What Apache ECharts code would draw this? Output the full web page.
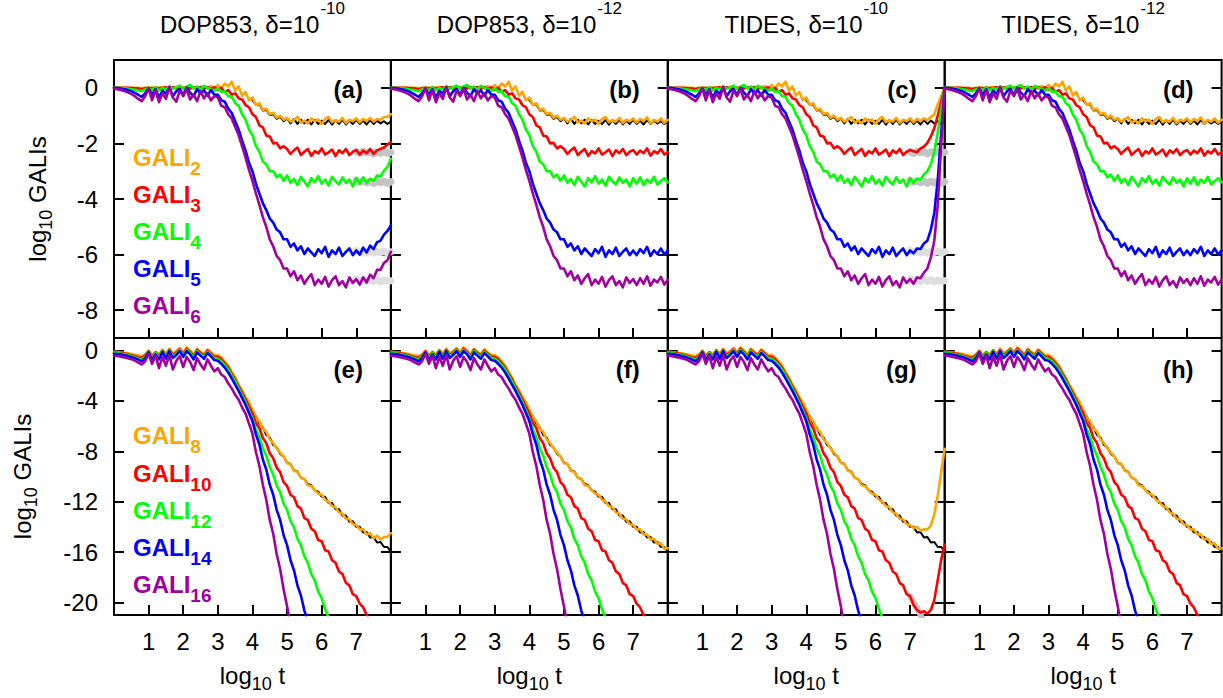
<!DOCTYPE html>
<html><head><meta charset="utf-8">
<script src="https://cdn.jsdelivr.net/npm/echarts@6/dist/echarts.min.js"></script>
<style>html,body{margin:0;padding:0;background:#fff}#c{width:1223px;height:698px}</style>
</head><body><div id="c"></div>
<script>
// ---------------- DATA ----------------
const logT = [0,0.1,0.2,0.3,0.4,0.5,0.6,0.7,0.8,0.9,
1,1.1,1.2,1.3,1.4,1.5,1.6,1.7,1.8,1.9,
2,2.1,2.2,2.3,2.4,2.5,2.6,2.7,2.8,2.9,
3,3.1,3.2,3.3,3.4,3.5,3.6,3.7,3.8,3.9,
4,4.1,4.2,4.3,4.4,4.5,4.6,4.7,4.8,4.9,
5,5.1,5.2,5.3,5.4,5.5,5.6,5.7,5.8,5.9,
6,6.1,6.2,6.3,6.4,6.5,6.6,6.7,6.8,6.9,
7,7.1,7.2,7.3,7.4,7.5,7.6,7.7,7.8,7.9,8];

const xTickVals = [1,2,3,4,5,6,7];
const yTickTop = [0,-2,-4,-6,-8];
const yTickBot = [0,-4,-8,-12,-16,-20];

const titleMain = ['DOP853, δ=10','DOP853, δ=10','TIDES, δ=10','TIDES, δ=10'];
const titleSup = ['-10','-12','-10','-12'];
const panelLabels = ['(a)','(b)','(c)','(d)','(e)','(f)','(g)','(h)'];
const topIdx = ['2','3','4','5','6'];
const botIdx = ['8','10','12','14','16'];

// top row (GALI2..GALI6), log10 t = 0 .. 7.0
const g2Top = [0,0,0,0,0,0,0,0,-0.02,0,
0,0,0,0,0.02,0,0.02,0,0.03,0,
0.03,0,0.04,-0.02,0.04,-0.02,0.05,-0.03,0.06,-0.03,
0.1,-0.02,0.15,0.05,0.22,-0.1,0.05,-0.28,-0.15,-0.45,
-0.35,-0.62,-0.55,-0.8,-0.75,-0.95,-0.9,-1.08,-1.0,-1.15,
-1.08,-1.22,-1.15,-1.05,-1.25,-1.18,-1.28,-1.1,-1.2,-1.14,
-1.3,-1.12,-1.05,-1.24,-1.16,-1.22,-1.08,-1.27,-1.15,-1.2,
-1.1];
const g3Top = [0,0,0,0,0,-0.01,-0.02,-0.03,-0.05,-0.02,
0,-0.02,0,-0.02,0,0.02,-0.02,0.02,-0.02,0.03,
-0.02,0.03,-0.03,0.02,-0.03,0.03,-0.04,0.03,-0.05,0.02,
-0.08,0,-0.15,-0.08,-0.25,-0.2,-0.38,-0.42,-0.62,-0.7,
-0.95,-1.05,-1.35,-1.42,-1.72,-1.75,-2.0,-1.98,-2.18,-2.1,
-2.2,-2.38,-2.25,-2.15,-2.42,-2.3,-2.2,-2.45,-2.28,-2.36,
-2.18,-2.4,-2.32,-2.22,-2.46,-2.25,-2.35,-2.2,-2.42,-2.3,
-2.24];
const g4Top = [0,0,-0.01,-0.02,-0.03,-0.05,-0.07,-0.1,-0.12,-0.06,
0,-0.08,0.02,-0.1,0,-0.06,0.06,-0.04,0.02,0.08,
-0.05,0.05,0.1,-0.03,0.04,-0.06,0.07,0,-0.05,-0.1,
-0.02,-0.15,-0.12,-0.3,-0.32,-0.55,-0.65,-0.95,-1.15,-1.5,
-1.7,-2.1,-2.3,-2.65,-2.75,-3.0,-3.0,-3.22,-3.12,-3.35,
-3.15,-3.42,-3.28,-3.5,-3.2,-3.38,-3.55,-3.25,-3.4,-3.18,
-3.45,-3.3,-3.52,-3.2,-3.36,-3.48,-3.22,-3.42,-3.3,-3.55,
-3.25];
const g5Top = [0,-0.01,-0.03,-0.05,-0.08,-0.12,-0.18,-0.25,-0.33,-0.2,
-0.02,-0.25,-0.05,-0.35,-0.1,-0.22,0.02,-0.3,-0.12,-0.05,
-0.25,0,-0.18,-0.3,-0.05,-0.2,-0.1,-0.28,-0.08,-0.25,
-0.25,-0.45,-0.5,-0.75,-0.9,-1.2,-1.5,-1.9,-2.25,-2.7,
-3.0,-3.45,-3.8,-4.15,-4.4,-4.7,-4.85,-5.1,-5.2,-5.45,
-5.45,-5.72,-5.6,-5.85,-5.7,-5.98,-5.78,-5.92,-6.05,-5.8,
-5.95,-5.72,-6.08,-5.85,-5.98,-5.75,-6.05,-5.9,-5.78,-6.02,
-5.85];
const g6Top = [-0.03,-0.05,-0.08,-0.12,-0.16,-0.22,-0.3,-0.4,-0.48,-0.3,
-0.02,-0.45,-0.08,-0.52,-0.2,-0.4,0.02,-0.35,-0.5,-0.1,
-0.3,-0.05,-0.42,-0.25,-0.48,-0.12,-0.38,-0.2,-0.45,-0.3,
-0.35,-0.65,-0.7,-0.95,-1.1,-1.4,-1.7,-2.1,-2.5,-2.95,
-3.35,-3.8,-4.2,-4.65,-5.0,-5.45,-5.7,-6.05,-6.2,-6.5,
-6.5,-6.78,-6.6,-6.92,-6.75,-7.05,-6.85,-6.7,-7.1,-6.9,
-7.05,-6.8,-7.15,-6.92,-6.78,-7.1,-6.95,-7.18,-6.82,-7.02,
-6.88];
// top row tails, log10 t = 7.1 .. 8.0  (A: panel a, B: panels b and d, C: panel c)
const g2TailA = [-1.24,-1.12,-1.2,-1.08,-1.22,-1.12,-1.15,-1.05,-1.05,-0.95];
const g2TailB = [-1.25,-1.12,-1.2,-1.06,-1.28,-1.15,-1.22,-1.1,-1.26,-1.15];
const g2TailC = [-1.24,-1.12,-1.2,-1.1,-1.16,-1.05,-0.95,-0.6,-0.3,0];
const g3TailA = [-2.4,-2.26,-2.35,-2.2,-2.38,-2.25,-2.2,-2.15,-2.05,-1.95];
const g3TailB = [-2.4,-2.26,-2.35,-2.18,-2.44,-2.28,-2.36,-2.2,-2.4,-2.32];
const g3TailC = [-2.28,-2.32,-2.18,-2.12,-1.98,-1.75,-1.45,-1.0,-0.5,0];
const g4TailA = [-3.45,-3.22,-3.42,-3.28,-3.35,-3.15,-3.2,-2.98,-2.85,-2.55];
const g4TailB = [-3.45,-3.22,-3.5,-3.3,-3.42,-3.2,-3.48,-3.35,-3.25,-3.4];
const g4TailC = [-3.42,-3.28,-3.3,-3.12,-3.0,-2.75,-2.3,-1.6,-0.8,0];
const g5TailA = [-6.0,-5.75,-5.92,-5.68,-5.8,-5.55,-5.5,-5.28,-5.15,-4.95];
const g5TailB = [-6.02,-5.8,-5.95,-5.72,-6.05,-5.85,-5.98,-5.78,-6.0,-5.85];
const g5TailC = [-5.95,-5.78,-5.8,-5.6,-5.5,-5.1,-4.5,-3.3,-1.6,0];
const g6TailA = [-7.08,-6.82,-7.0,-6.72,-6.85,-6.55,-6.55,-6.3,-6.2,-5.9];
const g6TailB = [-7.1,-6.85,-7.05,-6.78,-7.12,-6.9,-7.0,-6.8,-7.08,-6.9];
const g6TailC = [-7.05,-6.82,-6.85,-6.65,-6.5,-6.1,-5.5,-4.2,-2.0,0];
// black reference under GALI2, log10 t = 4.0 .. 8.0
const blackTop = [-0.45,-0.6,-0.6,-0.82,-0.8,-0.98,-0.95,-1.12,-1.05,-1.2,
-1.1,-1.28,-1.12,-1.3,-1.15,-1.28,-1.15,-1.32,-1.15,-1.3,
-1.18,-1.3,-1.15,-1.33,-1.16,-1.3,-1.15,-1.32,-1.18,-1.3,
-1.15,-1.3,-1.18,-1.32,-1.16,-1.3,-1.18,-1.28,-1.2,-1.3,-1.22];
// grey reference tails (panels a, c), log10 t = 7.0 .. 8.0
const grey3 = [-2.3,-2.36,-2.28,-2.34,-2.3,-2.38,-2.3,-2.35,-2.28,-2.36,-2.32];
const grey4 = [-3.32,-3.4,-3.34,-3.42,-3.35,-3.44,-3.36,-3.42,-3.35,-3.44,-3.38];
const grey5 = [-5.85,-5.92,-5.86,-5.94,-5.88,-5.95,-5.88,-5.93,-5.87,-5.95,-5.9];
const grey6 = [-6.88,-6.96,-6.9,-6.98,-6.9,-6.97,-6.9,-6.98,-6.92,-6.96,-6.94];

// bottom row (GALI8..GALI16), log10 t = 0 .. 7.0
const g8Bot = [-0.1,-0.12,-0.15,-0.18,-0.22,-0.27,-0.33,-0.4,-0.45,-0.3,
0,-0.35,-0.1,-0.3,0.05,-0.25,0.15,-0.2,-0.05,0.2,
-0.15,0.25,0,-0.3,0.15,-0.1,-0.3,0.1,-0.15,-0.35,
-0.35,-0.55,-0.85,-1.2,-1.7,-2.15,-2.7,-3.15,-3.7,-4.1,
-4.7,-5.3,-5.6,-6.2,-6.45,-7.05,-7.35,-7.75,-8.1,-8.4,
-8.95,-9.0,-9.55,-9.65,-10.1,-10.2,-10.7,-10.75,-11.1,-11.35,
-11.45,-11.85,-12.0,-12.35,-12.45,-12.85,-12.95,-13.35,-13.4,-13.8,
-13.85];
const g10Bot = [-0.15,-0.17,-0.2,-0.24,-0.3,-0.36,-0.44,-0.53,-0.6,-0.4,
-0.05,-0.5,-0.15,-0.45,0,-0.4,0.05,-0.35,-0.15,0.1,
-0.3,0.15,-0.1,-0.45,0.05,-0.2,-0.4,0,-0.25,-0.5,
-0.5,-0.7,-1.0,-1.35,-1.85,-2.3,-2.85,-3.35,-3.9,-4.45,
-5.0,-5.75,-6.15,-6.95,-7.35,-8.15,-8.55,-9.3,-9.65,-10.45,
-10.75,-11.45,-11.65,-12.35,-12.55,-13.3,-13.45,-14.15,-14.35,-15.05,
-15.15,-15.85,-15.95,-16.65,-16.85,-17.55,-17.75,-18.45,-18.65,-19.35,
-19.5];
const g12Bot = [-0.2,-0.22,-0.26,-0.3,-0.36,-0.43,-0.52,-0.62,-0.72,-0.5,
-0.1,-0.6,-0.2,-0.55,-0.05,-0.5,0,-0.45,-0.25,0.05,
-0.4,0.05,-0.2,-0.55,-0.05,-0.3,-0.5,-0.1,-0.35,-0.6,
-0.65,-0.85,-1.15,-1.5,-2.0,-2.45,-3.0,-3.55,-4.1,-4.75,
-5.4,-6.25,-6.85,-7.75,-8.35,-9.25,-9.85,-10.75,-11.25,-12.15,
-12.65,-13.55,-14.05,-14.95,-15.45,-16.35,-16.85,-17.75,-18.25,-19.15,
-19.65,-20.55,-21.2,-22.0,null,null,null,null,null,null,
null];
const g14Bot = [-0.25,-0.28,-0.32,-0.37,-0.43,-0.5,-0.6,-0.72,-0.85,-0.6,
-0.15,-0.75,-0.3,-0.7,-0.1,-0.65,-0.05,-0.6,-0.35,-0.05,
-0.5,-0.05,-0.3,-0.7,-0.15,-0.4,-0.65,-0.2,-0.45,-0.75,
-0.8,-1.05,-1.35,-1.75,-2.2,-2.7,-3.2,-3.75,-4.3,-4.95,
-5.6,-6.65,-7.45,-8.65,-9.45,-10.65,-11.45,-12.65,-13.45,-14.65,
-15.45,-16.65,-17.45,-18.65,-19.45,-20.65,-21.5,-22.2,null,null,
null,null,null,null,null,null,null,null,null,null,
null];
const g16Bot = [-0.4,-0.43,-0.48,-0.54,-0.6,-0.68,-0.8,-0.95,-1.1,-0.85,
-0.25,-1.05,-0.4,-1.4,-0.5,-1.2,-0.35,-1.5,-0.8,-0.45,
-1.3,-0.5,-0.9,-1.55,-0.6,-1.1,-1.5,-0.7,-1.2,-1.65,
-1.4,-1.9,-2.1,-2.6,-3.0,-3.5,-3.9,-4.5,-5.0,-5.8,
-6.6,-8.05,-9.15,-10.65,-11.85,-13.45,-14.55,-16.15,-17.35,-18.95,
-20.3,-21.8,null,null,null,null,null,null,null,null,
null,null,null,null,null,null,null,null,null,null,
null];
// bottom row tails, log10 t = 7.1 .. 8.0  (E: panel e, F: panels f and h, G: panel g)
const g8TailE = [-14.2,-14.2,-14.6,-14.5,-14.9,-14.7,-15.0,-14.8,-14.8,-14.5];
const g8TailF = [-14.2,-14.2,-14.6,-14.6,-15.0,-14.95,-15.35,-15.3,-15.75,-15.7];
const g8TailG = [-14.1,-14.0,-14.3,-14.2,-14.2,-13.9,-13.0,-11.5,-9.6,-7.8];
const g10TailF = [-20.1,-20.4,-21.0,-21.5,null,null,null,null,null,null];
const g10TailG = [-20.2,-20.6,-20.8,-20.7,-20.9,-20.6,-19.8,-18.2,-16.6,-15.4];
const noTail = [null,null,null,null,null,null,null,null,null,null];
// black reference under GALI8, log10 t = 4.0 .. 8.0
const blackBot = [-4.9,-5.2,-5.8,-6.1,-6.7,-6.9,-7.5,-7.7,-8.2,-8.4,
-8.9,-9.0,-9.5,-9.6,-10.1,-10.2,-10.6,-10.7,-11.1,-11.2,
-11.6,-11.6,-12.1,-12.1,-12.6,-12.6,-13.1,-13.1,-13.6,-13.55,
-14.0,-14.0,-14.45,-14.4,-14.85,-14.8,-15.25,-15.2,-15.6,-15.6,-16.0];
// grey reference under GALI10 in panel g, log10 t = 7.0 .. 7.4
const greyRedG = [-19.5,-20.0,-20.4,-21.0,-21.5];

// ---------------- LAYOUT / STYLE ----------------
const FONT = "'Liberation Sans', Arial, Helvetica, sans-serif";
const COLORS = ['#FFA500','#FF0000','#00FF00','#0000FF','#A000A0'];
const colLeft = [114, 390.9, 667.8, 944.7];
const colW = 276.9;
const rowTop = [60, 338];
const rowH = [278, 277];
const yMin = [-9, -21];

const topBase = [g2Top, g3Top, g4Top, g5Top, g6Top];
const topTails = [
  [g2TailA, g2TailB, g2TailC, g2TailB],
  [g3TailA, g3TailB, g3TailC, g3TailB],
  [g4TailA, g4TailB, g4TailC, g4TailB],
  [g5TailA, g5TailB, g5TailC, g5TailB],
  [g6TailA, g6TailB, g6TailC, g6TailB]
];
const botBase = [g8Bot, g10Bot, g12Bot, g14Bot, g16Bot];
const botTails = [
  [g8TailE, g8TailF, g8TailG, g8TailF],
  [g10TailF, g10TailF, g10TailG, g10TailF],
  [noTail, noTail, noTail, noTail],
  [noTail, noTail, noTail, noTail],
  [noTail, noTail, noTail, noTail]
];

function pairs(startIdx, ys) { return ys.map((v, i) => [logT[startIdx + i], v]); }

const grid = [], xAxis = [], yAxis = [], series = [], graphic = [];
for (let row = 0; row < 2; row++) {
  for (let col = 0; col < 4; col++) {
    const k = row * 4 + col;
    grid.push({left: colLeft[col], top: rowTop[row], width: colW, height: rowH[row],
      show: true, borderColor: '#000', borderWidth: 2, backgroundColor: 'transparent'});
    xAxis.push({type: 'value', gridIndex: k, min: 0, max: 8,
      axisLine: {show: false, onZero: false}, splitLine: {show: false},
      axisTick: {show: true, inside: true, length: 10, lineStyle: {color: '#000', width: 2}, customValues: xTickVals},
      axisLabel: {show: row === 1, customValues: xTickVals, fontSize: 24, fontFamily: FONT, color: '#000', margin: 14}});
    const yt = row === 0 ? yTickTop : yTickBot;
    const yi = yAxis.length;
    // tick-only axes on both sides
    ['left', 'right'].forEach(pos => {
      yAxis.push({type: 'value', gridIndex: k, position: pos, min: yMin[row], max: 1,
        axisLine: {show: false, onZero: false}, splitLine: {show: false},
        axisTick: {show: true, inside: true, length: 10, lineStyle: {color: '#000', width: 2}, customValues: yt},
        axisLabel: {show: false}});
    });
    // label-only axis for the first column
    if (col === 0) {
      yAxis.push({type: 'value', gridIndex: k, position: 'left', min: yMin[row], max: 1,
        axisLine: {show: false, onZero: false}, splitLine: {show: false}, axisTick: {show: false},
        axisLabel: {show: true, customValues: yt, fontSize: 24, fontFamily: FONT, color: '#000', margin: 16}});
    }
    const xi = k;
    const mk = (data, color, width) => ({type: 'line', xAxisIndex: xi, yAxisIndex: yi, data,
      symbol: 'none', showSymbol: false, animation: false, silent: true,
      lineStyle: {color, width, join: 'round', cap: 'round'}, itemStyle: {color}});
    if (row === 0) {
      if (col === 0 || col === 2) {
        [grey3, grey4, grey5, grey6].forEach((g, gi) =>
          series.push(mk(pairs(70, g), gi < 2 ? '#c4c4c4' : '#dedede', 7)));
      }
      series.push(mk(pairs(40, blackTop), '#000', 2));
      topBase.forEach((b, s) => series.push(mk(pairs(0, b.concat(topTails[s][col])), COLORS[s], 2.6)));
    } else {
      if (col === 2) series.push(mk(pairs(70, greyRedG), '#c4c4c4', 6));
      series.push(mk(pairs(40, blackBot), '#000', 2));
      botBase.forEach((b, s) => series.push(mk(pairs(0, b.concat(botTails[s][col])), COLORS[s], 2.6)));
    }
    graphic.push({type: 'text', x: colLeft[col] + colW - 28, y: row === 0 ? 89 : 369, z: 100,
      style: {text: panelLabels[k], fill: '#000', fontSize: 24, fontWeight: 'bold', fontFamily: FONT,
        align: 'right', verticalAlign: 'middle'}});
  }
}

// column titles and x axis names
for (let col = 0; col < 4; col++) {
  graphic.push({type: 'text', x: colLeft[col] + colW / 2, y: 0, z: 100,
    style: {text: '{m|' + titleMain[col] + '}{p|' + titleSup[col] + '}', align: 'center', verticalAlign: 'top',
      rich: {m: {fontSize: 24, fontFamily: FONT, fill: '#000', lineHeight: 26, padding: [12, 0, 0, 0], verticalAlign: 'top'},
             p: {fontSize: 17, fontFamily: FONT, fill: '#000', lineHeight: 26, padding: [0, 0, 0, 1], verticalAlign: 'top'}}}});
  graphic.push({type: 'text', x: colLeft[col] + colW / 2, y: 663, z: 100,
    style: {text: '{m|log}{s|10}{m| t}', align: 'center', verticalAlign: 'top',
      rich: {m: {fontSize: 24, fontFamily: FONT, fill: '#000', lineHeight: 28, verticalAlign: 'top'},
             s: {fontSize: 18, fontFamily: FONT, fill: '#000', lineHeight: 20, padding: [12, 0, 0, 0], verticalAlign: 'top'}}}});
}
// y axis names
[[39, 199], [24, 476.5]].forEach(([x, y]) => {
  graphic.push({type: 'text', x, y, rotation: Math.PI / 2, z: 100,
    style: {text: '{m|log}{s|10}{m| GALIs}', align: 'center', verticalAlign: 'middle',
      rich: {m: {fontSize: 24, fontFamily: FONT, fill: '#000', lineHeight: 28, verticalAlign: 'top'},
             s: {fontSize: 18, fontFamily: FONT, fill: '#000', lineHeight: 20, padding: [12, 0, 0, 0], verticalAlign: 'top'}}}});
});
// legends
const legTopY = [159, 196, 233, 270, 307];
const legBotY = [437, 475, 512, 549, 586];
[[topIdx, legTopY], [botIdx, legBotY]].forEach(([names, ys]) => {
  names.forEach((n, i) => {
    graphic.push({type: 'text', x: 133, y: ys[i] - 14, z: 100,
      style: {text: '{m|GALI}{s|' + n + '}', align: 'left', verticalAlign: 'top',
        rich: {m: {fontSize: 24, fontWeight: 'bold', fontFamily: FONT, fill: COLORS[i], lineHeight: 28, verticalAlign: 'top'},
               s: {fontSize: 19, fontWeight: 'bold', fontFamily: FONT, fill: COLORS[i], lineHeight: 20, padding: [14, 0, 0, 0], verticalAlign: 'top'}}}});
  });
});

const chart = echarts.init(document.getElementById('c'), null, {renderer: 'svg', width: 1223, height: 698});
chart.setOption({backgroundColor: '#fff', animation: false, grid, xAxis, yAxis, series, graphic});
</script></body></html>
